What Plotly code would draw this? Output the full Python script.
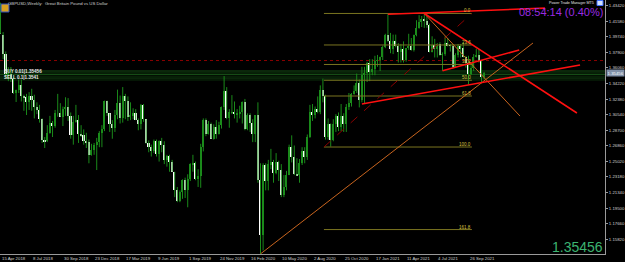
import plotly.graph_objects as go

# ---------------- data (GBPUSD weekly, week index 0 = 15 Apr 2018) ----------------
opens = [1.4240,1.4000,1.3775,1.3530,1.3540,1.3470,1.3310,1.3350,1.3410,1.3270,
         1.3260,1.3200,1.3280,1.3230,1.3140,1.3110,1.3000,1.2760,1.2740,1.2840,
         1.2950,1.2920,1.3070,1.3070,1.3030,1.3120,1.3150,1.3040,1.2810,1.2970,
         1.2990,1.2830,1.2810,1.2740,1.2730,1.2580,1.2640,1.2700,1.2730,1.2840,
         1.2880,1.3210,1.3070,1.2940,1.2900,1.3050,1.3190,1.3010,1.3280,1.3210,
         1.3030,1.3040,1.3070,1.2990,1.2940,1.3170,1.3000,1.2720,1.2670,1.2620,
         1.2740,1.2590,1.2740,1.2690,1.2520,1.2570,1.2490,1.2380,1.2160,1.2030,
         1.2140,1.2280,1.2160,1.2290,1.2470,1.2480,1.2290,1.2330,1.2670,1.2990,
         1.2830,1.2940,1.2770,1.2910,1.2830,1.2930,1.3150,1.3330,1.3010,1.3080,
         1.3085,1.3060,1.3070,1.3080,1.3200,1.2890,1.3050,1.2960,1.2820,1.3050,
         1.2280,1.1630,1.2460,1.2270,1.2470,1.2490,1.2370,1.2490,1.2400,1.2110,
         1.2200,1.2340,1.2670,1.2560,1.2350,1.2340,1.2480,1.2620,1.2560,1.2790,
         1.3090,1.3050,1.3120,1.3090,1.3350,1.3280,1.2790,1.2940,1.2750,1.2940,
         1.3040,1.2910,1.3040,1.2940,1.3150,1.3190,1.3300,1.3330,1.3430,1.3230,
         1.3520,1.3550,1.3670,1.3560,1.3590,1.3690,1.3700,1.3730,1.3850,1.4000,
         1.3930,1.3830,1.3930,1.3870,1.3790,1.3830,1.3700,1.3840,1.3870,1.3820,
         1.3990,1.4080,1.4150,1.4190,1.4160,1.4110,1.3800,1.3880,1.3830,1.3890,
         1.3760,1.3770,1.3900,1.3870,1.3867,1.3620,1.3760,1.3860,1.3840,1.3740,
         1.3670,1.3530,1.3610,1.3740,1.3757,1.3683,1.3497]
highs = [1.4377,1.4030,1.3801,1.3615,1.3617,1.3500,1.3350,1.3470,1.3470,1.3290,
         1.3300,1.3320,1.3360,1.3290,1.3200,1.3170,1.3010,1.2790,1.2930,1.3040,
         1.2980,1.3110,1.3300,1.3190,1.3150,1.3260,1.3250,1.3080,1.3040,1.3170,
         1.3050,1.2930,1.2880,1.2840,1.2760,1.2710,1.2720,1.2780,1.2860,1.2930,
         1.3220,1.3220,1.3070,1.2990,1.3110,1.3350,1.3280,1.3380,1.3300,1.3270,
         1.3200,1.3130,1.3120,1.3010,1.3180,1.3180,1.3000,1.2750,1.2700,1.2760,
         1.2760,1.2750,1.2780,1.2740,1.2580,1.2580,1.2520,1.2380,1.2200,1.2160,
         1.2290,1.2310,1.2350,1.2480,1.2580,1.2500,1.2410,1.2710,1.3010,1.3010,
         1.2980,1.2960,1.2940,1.2990,1.2970,1.3150,1.3510,1.3380,1.3120,1.3285,
         1.3210,1.3120,1.3160,1.3210,1.3240,1.3070,1.3070,1.3000,1.3050,1.3200,
         1.2480,1.2480,1.2480,1.2520,1.2650,1.2520,1.2600,1.2510,1.2470,1.2340,
         1.2390,1.2700,1.2810,1.2690,1.2540,1.2530,1.2670,1.2670,1.2820,1.3170,
         1.3180,1.3150,1.3270,1.3400,1.3480,1.3290,1.3010,1.2950,1.3000,1.3060,
         1.3080,1.3180,1.3070,1.3180,1.3310,1.3310,1.3400,1.3540,1.3470,1.3620,
         1.3620,1.3680,1.3710,1.3710,1.3750,1.3760,1.3740,1.3870,1.4010,1.4241,
         1.4020,1.4000,1.4000,1.3900,1.3890,1.3920,1.3840,1.4010,1.3960,1.4000,
         1.4170,1.4230,1.4220,1.4250,1.4220,1.4130,1.3980,1.3950,1.3900,1.3910,
         1.3790,1.3980,1.3960,1.3890,1.3890,1.3780,1.3890,1.3890,1.3910,1.3750,
         1.3750,1.3670,1.3770,1.3834,1.3830,1.3700,1.3560]
lows = [1.4010,1.3711,1.3487,1.3450,1.3440,1.3300,1.3204,1.3310,1.3210,1.3100,
        1.3050,1.3110,1.3100,1.3010,1.3060,1.2960,1.2720,1.2660,1.2730,1.2830,
        1.2790,1.2900,1.3030,1.3030,1.2920,1.3040,1.2980,1.2770,1.2700,1.2960,
        1.2720,1.2790,1.2700,1.2660,1.2480,1.2570,1.2580,1.2400,1.2670,1.2670,
        1.2860,1.3040,1.2850,1.2770,1.2850,1.3000,1.2950,1.2960,1.3000,1.2980,
        1.2990,1.3000,1.2990,1.2870,1.2880,1.2970,1.2710,1.2610,1.2560,1.2600,
        1.2560,1.2500,1.2610,1.2470,1.2440,1.2380,1.2380,1.2080,1.2020,1.2020,
        1.2060,1.2070,1.1960,1.2270,1.2380,1.2280,1.2200,1.2190,1.2620,1.2800,
        1.2820,1.2770,1.2760,1.2770,1.2820,1.2890,1.3110,1.3000,1.2900,1.3060,
        1.3010,1.2960,1.3010,1.2950,1.2870,1.2870,1.2850,1.2730,1.2730,1.2250,
        1.1409,1.1450,1.2160,1.2160,1.2410,1.2250,1.2350,1.2270,1.2080,1.2080,
        1.2160,1.2340,1.2490,1.2340,1.2330,1.2250,1.2460,1.2480,1.2520,1.2780,
        1.2980,1.3010,1.3070,1.3060,1.3200,1.2760,1.2760,1.2676,1.2740,1.2850,
        1.2860,1.2860,1.2850,1.2850,1.3110,1.3150,1.3290,1.3310,1.3140,1.3200,
        1.3190,1.3440,1.3450,1.3520,1.3520,1.3620,1.3570,1.3700,1.3840,1.3910,
        1.3780,1.3770,1.3850,1.3670,1.3670,1.3670,1.3680,1.3820,1.3810,1.3800,
        1.3980,1.4070,1.4090,1.4080,1.4080,1.3790,1.3790,1.3730,1.3730,1.3750,
        1.3572,1.3750,1.3860,1.3800,1.3602,1.3610,1.3730,1.3730,1.3730,1.3610,
        1.3412,1.3520,1.3570,1.3730,1.3670,1.3425,1.3470]
closes = [1.4010,1.3775,1.3530,1.3540,1.3470,1.3310,1.3350,1.3410,1.3270,1.3260,
          1.3200,1.3280,1.3230,1.3140,1.3110,1.3000,1.2760,1.2740,1.2840,1.2950,
          1.2920,1.3070,1.3070,1.3030,1.3120,1.3150,1.3040,1.2810,1.2970,1.2990,
          1.2830,1.2810,1.2740,1.2730,1.2580,1.2640,1.2700,1.2730,1.2840,1.2880,
          1.3210,1.3070,1.2940,1.2900,1.3050,1.3190,1.3010,1.3280,1.3210,1.3030,
          1.3040,1.3070,1.2990,1.2940,1.3170,1.3000,1.2720,1.2670,1.2620,1.2740,
          1.2590,1.2740,1.2690,1.2520,1.2570,1.2490,1.2380,1.2160,1.2030,1.2140,
          1.2280,1.2160,1.2290,1.2470,1.2480,1.2290,1.2330,1.2670,1.2990,1.2830,
          1.2940,1.2770,1.2910,1.2830,1.2930,1.3150,1.3330,1.3010,1.3080,1.3085,
          1.3060,1.3070,1.3080,1.3200,1.2890,1.3050,1.2960,1.2820,1.3050,1.2280,
          1.1630,1.2460,1.2270,1.2470,1.2490,1.2370,1.2490,1.2400,1.2110,1.2200,
          1.2340,1.2670,1.2560,1.2350,1.2340,1.2480,1.2620,1.2560,1.2790,1.3090,
          1.3050,1.3120,1.3090,1.3350,1.3280,1.2790,1.2940,1.2750,1.2940,1.3040,
          1.2910,1.3040,1.2940,1.3150,1.3190,1.3300,1.3330,1.3430,1.3230,1.3520,
          1.3550,1.3670,1.3560,1.3590,1.3690,1.3700,1.3730,1.3850,1.4000,1.3930,
          1.3830,1.3930,1.3870,1.3790,1.3830,1.3700,1.3840,1.3870,1.3820,1.3990,
          1.4080,1.4150,1.4190,1.4160,1.4110,1.3800,1.3880,1.3830,1.3890,1.3760,
          1.3770,1.3900,1.3870,1.3867,1.3620,1.3760,1.3860,1.3840,1.3740,1.3670,
          1.3530,1.3610,1.3740,1.3757,1.3683,1.3497,1.35456]
weeks = list(range(len(closes)))

date_idx = [0, 12, 24, 36, 48, 60, 72, 84, 96, 108, 120, 132, 144, 156, 168, 180]
date_labels = ["15 Apr 2018", "8 Jul 2018", "30 Sep 2018", "23 Dec 2018", "17 Mar 2019",
               "9 Jun 2019", "1 Sep 2019", "24 Nov 2019", "16 Feb 2020", "10 May 2020",
               "2 Aug 2020", "25 Oct 2020", "17 Jan 2021", "11 Apr 2021", "4 Jul 2021",
               "26 Sep 2021"]
price_ticks = [round(1.1582 + 0.0184 * k, 5) for k in range(16)]
price_labels = ["%.5f" % v for v in price_ticks]

current_price = 1.35456
# trend lines: (week1, price1, week2, price2)
red_lines = [(149.0, 1.4241, 209.4, 1.4313),
             (163.0, 1.4250, 221.7, 1.3074),
             (170.0, 1.3572, 199.5, 1.3818),
             (139.0, 1.3180, 222.9, 1.3641)]
brown_lines = [(163.0, 1.4250, 199.8, 1.3038),
               (100.0, 1.1409, 204.8, 1.3901)]
fib_a = (124.4, 1.2672)
fib_b = (181.3, 1.4250)
fib_levels = [0.0, 23.6, 38.2, 50.0, 61.8, 100.0, 161.8]
dotted_red_level = 1.3694
green_levels = [1.3570, 1.3549, 1.3531, 1.3509, 1.3487, 1.3464]
green_colors = ["#164f16", "#0b300b", "#1c5e1c", "#0b300b", "#134513", "#0b300b"]

# ---------------- figure ----------------
W, H = 625, 262
ML, MR, MT, MB = 0, 20, 0, 8
PW, PH = W - ML - MR, H - MT - MB
def px(x):
    return x / PW
def py(y):
    return 1 - y / PH

fig = go.Figure()

wx, wy = [], []
for i in weeks:
    wx += [i, i, None]
    wy += [lows[i], highs[i], None]
fig.add_trace(go.Scatter(x=wx, y=wy, mode="lines", line=dict(color="#1a8a1a", width=1),
                         hoverinfo="skip", showlegend=False))

bear_x = [i for i in weeks if closes[i] < opens[i]]
bull_x = [i for i in weeks if closes[i] >= opens[i]]
fig.add_trace(go.Bar(x=bull_x, y=[closes[i] - opens[i] for i in bull_x],
                     base=[opens[i] for i in bull_x], width=0.55,
                     marker=dict(color="#1c8c1c", line=dict(width=0)), showlegend=False))
fig.add_trace(go.Bar(x=bear_x, y=[opens[i] - closes[i] for i in bear_x],
                     base=[closes[i] for i in bear_x], width=0.6,
                     marker=dict(color="#ffffff", line=dict(width=0)), showlegend=False))

shapes = []
for lv, c in zip(green_levels, green_colors):
    shapes.append(dict(type="line", xref="paper", yref="y", x0=0, x1=1, y0=lv, y1=lv,
                       line=dict(color=c, width=1), layer="below"))
shapes.append(dict(type="line", xref="paper", yref="y", x0=0, x1=1,
                   y0=dotted_red_level, y1=dotted_red_level,
                   line=dict(color="#8a0000", width=1, dash="dot"), layer="below"))
fa_i, fa_p = fib_a
fb_i, fb_p = fib_b
annotations = []
for lv in fib_levels:
    p = fb_p - (fb_p - fa_p) * lv / 100.0
    shapes.append(dict(type="line", xref="x", yref="y", x0=fa_i, x1=fb_i, y0=p, y1=p,
                       line=dict(color="#7a7420", width=1)))
    annotations.append(dict(x=fb_i, y=p, xref="x", yref="y", text="%.1f" % lv,
                            showarrow=False, xanchor="right", yanchor="bottom",
                            font=dict(size=4.5, color="#d8c040", family="Arial"),
                            borderpad=0, yshift=-1))
shapes.append(dict(type="line", xref="x", yref="y", x0=fa_i, y0=fa_p, x1=fb_i, y1=fb_p,
                   line=dict(color="#8b0000", width=1, dash="dash")))
for (a, pa, b, pb) in brown_lines:
    shapes.append(dict(type="line", xref="x", yref="y", x0=a, y0=pa, x1=b, y1=pb,
                       line=dict(color="#c8641e", width=1)))
for (a, pa, b, pb) in red_lines:
    shapes.append(dict(type="line", xref="x", yref="y", x0=a, y0=pa, x1=b, y1=pb,
                       line=dict(color="#ff1010", width=1.6)))

shapes.append(dict(type="rect", xref="paper", yref="paper", x0=px(1), x1=px(9),
                   y0=py(12), y1=py(4), line=dict(color="#3050c0", width=1),
                   fillcolor="#d8a020"))
shapes.append(dict(type="rect", xref="paper", yref="paper", x0=px(597), x1=px(603),
                   y0=py(5.5), y1=py(0.5), line=dict(color="#4070ff", width=1),
                   fillcolor="#d0e0ff"))

for i, t in zip(date_idx, date_labels):
    annotations.append(dict(x=i, y=0, xref="x", yref="paper", text=t, showarrow=False,
                            xanchor="left", yanchor="top", yshift=-1, borderpad=0,
                            font=dict(size=4.3, color="#d0d0d0", family="Arial")))
annotations.append(dict(x=px(7), y=1, xref="paper", yref="paper",
                        text="GBPUSD,Weekly:  Great Britain Pound vs US Dollar",
                        showarrow=False, xanchor="left", yanchor="top", borderpad=0,
                        font=dict(size=4.3, color="#d0d0d0", family="Arial")))
annotations.append(dict(x=px(595), y=1, xref="paper", yref="paper",
                        text="Power Trade Manager MT5", showarrow=False,
                        xanchor="right", yanchor="top", borderpad=0,
                        font=dict(size=3.7, color="#e0e0e0", family="Arial")))
annotations.append(dict(x=px(604), y=1, xref="paper", yref="paper",
                        text="08:54:14 (0.40%)", showarrow=False,
                        xanchor="right", yanchor="top", borderpad=0, yshift=-4.5,
                        font=dict(size=11, color="#9a2be0", family="Arial")))
annotations.append(dict(x=px(604), y=0, xref="paper", yref="paper",
                        text="%.5f" % current_price, showarrow=False,
                        xanchor="right", yanchor="bottom", borderpad=0, yshift=-2,
                        font=dict(size=14, color="#3cb371", family="Arial")))
annotations.append(dict(x=1, y=current_price, xref="paper", yref="y",
                        text="%.5f" % current_price, showarrow=False,
                        xanchor="left", yanchor="middle", xshift=1, borderpad=0.6,
                        bgcolor="#8090a8",
                        font=dict(size=4.3, color="#ffffff", family="Arial")))
annotations.append(dict(x=px(3), y=py(68), xref="paper", yref="paper",
                        text="<b>BUY 0.01|1.35456</b><br><b>SELL 0.1|1.3541</b>",
                        showarrow=False, align="left",
                        xanchor="left", yanchor="top", borderpad=0,
                        font=dict(size=4.6, color="#e8e8e8", family="Arial")))

fig.update_layout(
    width=W, height=H, margin=dict(l=ML, r=MR, t=MT, b=MB),
    paper_bgcolor="#000000", plot_bgcolor="#000000",
    barmode="overlay", bargap=0, showlegend=False,
    shapes=shapes, annotations=annotations,
    xaxis=dict(range=[-0.2, 232.5], showgrid=False, zeroline=False,
               showticklabels=False, ticks="", showline=True,
               linecolor="#9a9a9a", linewidth=1, fixedrange=True),
    yaxis=dict(range=[1.1408, 1.4409], side="right", showgrid=False, zeroline=False,
               tickmode="array", tickvals=price_ticks, ticktext=price_labels,
               ticks="outside", ticklen=2, tickcolor="#9a9a9a",
               tickfont=dict(size=4.3, color="#d0d0d0", family="Arial"),
               showline=True, linecolor="#9a9a9a", linewidth=1, fixedrange=True),
)

fig.write_html("out.html")
